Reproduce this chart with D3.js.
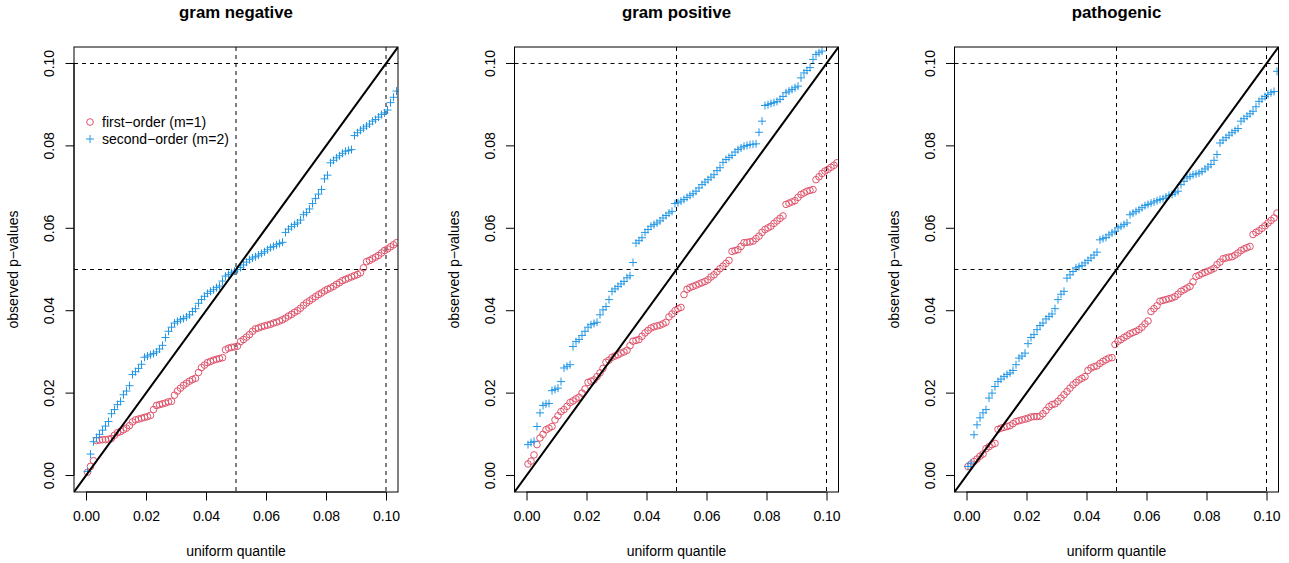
<!DOCTYPE html>
<html><head><meta charset="utf-8">
<script src="https://cdn.jsdelivr.net/npm/d3@7"></script>
<style>
body{margin:0;background:#fff}
text{font-family:"Liberation Sans",Arial,Helvetica,sans-serif;fill:#000}
</style></head>
<body><svg id="chart" width="1289" height="563"></svg>
<script>
// ---- data (sorted observed p-values, one per uniform quantile) ----
const panelTitles = ["gram negative", "gram positive", "pathogenic"];
const seriesNames = ["first\u2212order (m=1)", "second\u2212order (m=2)"];
const tickValues = [0, 0.02, 0.04, 0.06, 0.08, 0.10];
const tickLabels = ["0.00", "0.02", "0.04", "0.06", "0.08", "0.10"];
const nTests = 1000;

const negFirst = [.0008,.0022,.0036,.0085,.0086,.0087,.0087,.0088,.0090,.0098,
.0104,.0107,.0111,.0115,.0121,.0130,.0135,.0137,.0139,.0141,
.0143,.0146,.0160,.0170,.0172,.0174,.0176,.0179,.0180,.0195,
.0205,.0212,.0219,.0224,.0229,.0233,.0236,.0250,.0262,.0268,
.0274,.0277,.0280,.0282,.0284,.0286,.0305,.0309,.0311,.0312,
.0314,.0325,.0330,.0336,.0342,.0350,.0356,.0358,.0361,.0363,
.0365,.0367,.0370,.0372,.0375,.0378,.0382,.0387,.0391,.0396,
.0400,.0406,.0413,.0419,.0424,.0429,.0434,.0439,.0443,.0448,
.0452,.0455,.0459,.0464,.0468,.0473,.0476,.0479,.0482,.0485,
.0488,.0492,.0504,.0519,.0522,.0526,.0530,.0534,.0540,.0546,
.0550,.0555,.0560,.0565];
const negSecond = [.0010,.0052,.0082,.0092,.0100,.0110,.0120,.0131,.0150,.0160,
.0172,.0180,.0196,.0205,.0218,.0245,.0252,.0260,.0270,.0287,
.0290,.0293,.0296,.0300,.0307,.0316,.0335,.0350,.0360,.0370,
.0374,.0378,.0381,.0385,.0390,.0398,.0405,.0418,.0427,.0435,
.0442,.0447,.0451,.0456,.0460,.0472,.0484,.0488,.0492,.0496,
.0500,.0505,.0511,.0518,.0524,.0528,.0531,.0535,.0539,.0543,
.0548,.0553,.0556,.0560,.0563,.0566,.0590,.0598,.0604,.0609,
.0613,.0620,.0633,.0638,.0647,.0660,.0672,.0683,.0694,.0720,
.0729,.0759,.0765,.0771,.0776,.0782,.0787,.0789,.0791,.0825,
.0832,.0838,.0843,.0848,.0853,.0860,.0864,.0870,.0876,.0880,
.0887,.0905,.0918,.0933];
const posFirst = [.0028,.0035,.0050,.0075,.0091,.0100,.0111,.0115,.0119,.0135,
.0145,.0155,.0160,.0168,.0177,.0181,.0186,.0190,.0200,.0210,
.0226,.0229,.0232,.0240,.0249,.0260,.0275,.0280,.0287,.0290,
.0293,.0297,.0300,.0304,.0315,.0326,.0328,.0330,.0338,.0346,
.0352,.0358,.0361,.0363,.0365,.0368,.0372,.0385,.0392,.0400,
.0405,.0408,.0439,.0452,.0456,.0459,.0462,.0465,.0468,.0471,
.0475,.0482,.0487,.0495,.0502,.0508,.0515,.0522,.0544,.0546,
.0548,.0556,.0565,.0566,.0567,.0569,.0575,.0581,.0590,.0597,
.0601,.0605,.0612,.0618,.0624,.0630,.0658,.0661,.0664,.0667,
.0675,.0682,.0686,.0690,.0692,.0694,.0718,.0725,.0733,.0739,
.0743,.0748,.0753,.0759];
const posSecond = [.0075,.0080,.0083,.0119,.0152,.0170,.0174,.0175,.0206,.0209,
.0212,.0228,.0261,.0265,.0269,.0313,.0325,.0330,.0340,.0350,
.0360,.0366,.0369,.0372,.0390,.0402,.0410,.0427,.0447,.0453,
.0459,.0465,.0471,.0480,.0485,.0517,.0564,.0570,.0577,.0590,
.0597,.0605,.0609,.0613,.0618,.0625,.0631,.0637,.0641,.0660,
.0662,.0666,.0670,.0675,.0680,.0684,.0690,.0698,.0706,.0712,
.0718,.0724,.0730,.0740,.0747,.0760,.0767,.0772,.0777,.0785,
.0791,.0795,.0799,.0801,.0803,.0804,.0805,.0833,.0860,.0898,
.0900,.0903,.0905,.0908,.0913,.0920,.0929,.0933,.0937,.0941,
.0945,.0965,.0977,.0983,.0990,.1010,.1022,.1026,.1030,.1050,
.1060,.1070,.1080,.1090];
const pathFirst = [.0022,.0028,.0034,.0040,.0047,.0052,.0065,.0070,.0075,.0078,
.0112,.0115,.0117,.0119,.0121,.0126,.0131,.0133,.0135,.0137,
.0139,.0142,.0143,.0143,.0144,.0150,.0158,.0167,.0172,.0174,
.0180,.0188,.0196,.0204,.0212,.0220,.0226,.0232,.0236,.0240,
.0255,.0261,.0264,.0266,.0272,.0277,.0281,.0285,.0286,.0318,
.0326,.0330,.0335,.0339,.0344,.0347,.0350,.0354,.0360,.0368,
.0375,.0398,.0405,.0412,.0423,.0425,.0427,.0429,.0431,.0434,
.0440,.0447,.0451,.0455,.0459,.0470,.0483,.0486,.0490,.0493,
.0496,.0499,.0503,.0512,.0518,.0526,.0528,.0530,.0531,.0535,
.0540,.0546,.0550,.0553,.0556,.0585,.0590,.0594,.0600,.0606,
.0613,.0619,.0625,.0637];
const pathSecond = [.0022,.0030,.0099,.0123,.0140,.0152,.0160,.0188,.0200,.0216,
.0228,.0234,.0240,.0245,.0249,.0255,.0269,.0285,.0290,.0297,
.0320,.0335,.0342,.0354,.0364,.0370,.0380,.0386,.0392,.0405,
.0427,.0440,.0447,.0479,.0487,.0495,.0504,.0507,.0510,.0516,
.0522,.0528,.0535,.0542,.0572,.0575,.0578,.0584,.0589,.0593,
.0601,.0605,.0609,.0613,.0633,.0637,.0641,.0645,.0650,.0655,
.0658,.0661,.0664,.0667,.0670,.0672,.0676,.0680,.0682,.0686,
.0690,.0706,.0714,.0722,.0726,.0730,.0732,.0734,.0738,.0744,
.0749,.0755,.0765,.0779,.0807,.0814,.0820,.0826,.0832,.0837,
.0842,.0860,.0866,.0872,.0878,.0884,.0895,.0908,.0914,.0920,
.0925,.0929,.0932,.0981];

const panels = [
  {title: panelTitles[0], first: negFirst, second: negSecond, legend: true},
  {title: panelTitles[1], first: posFirst, second: posSecond, legend: false},
  {title: panelTitles[2], first: pathFirst, second: pathSecond, legend: false}
];

// ---- styles / layout ----
const colFirst = "#DF536B", colSecond = "#2297E6";
const plotLefts = [74, 514.5, 954.5], plotW = 324, plotTop = 47, plotBottom = 492;
const dom = [-0.004, 0.104];
const fs = 14;

const svg = d3.select("#chart");

panels.forEach((p, k) => {
  const L = plotLefts[k];
  const x = d3.scaleLinear().domain(dom).range([L, L + plotW]);
  const y = d3.scaleLinear().domain(dom).range([plotBottom, plotTop]);
  const g = svg.append("g");

  const clipId = "clip" + k;
  svg.append("clipPath").attr("id", clipId).append("rect")
    .attr("x", L).attr("y", plotTop).attr("width", plotW).attr("height", plotBottom - plotTop);

  // axes
  const xAx = g.append("g").attr("transform", `translate(0,${plotBottom})`)
    .call(d3.axisBottom(x).tickValues(tickValues).tickFormat((d, i) => tickLabels[i]).tickSizeOuter(0).tickSizeInner(8.5).tickPadding(11));
  xAx.select(".domain").attr("d", `M${x(0)},0H${x(0.1)}`).attr("stroke", "#000");
  xAx.selectAll("text").attr("font-size", fs).attr("font-family", null);
  xAx.selectAll("line").attr("stroke", "#000");

  const yAx = g.append("g").attr("transform", `translate(${L},0)`)
    .call(d3.axisLeft(y).tickValues(tickValues).tickFormat((d, i) => tickLabels[i]).tickSizeOuter(0).tickSizeInner(8.5));
  yAx.select(".domain").attr("d", `M0,${y(0)}V${y(0.1)}`).attr("stroke", "#000");
  yAx.selectAll("line").attr("stroke", "#000");
  yAx.selectAll("text")
    .attr("font-size", fs).attr("font-family", null)
    .attr("x", null).attr("dy", null)
    .attr("text-anchor", "middle")
    .attr("transform", d => `translate(${-20},${y(d)}) rotate(-90)`)
    .attr("y", 0);
  yAx.selectAll(".tick").attr("transform", null);
  yAx.selectAll(".tick line").attr("transform", d => `translate(0,${y(d)})`);

  // reference lines
  const ref = g.append("g").attr("stroke", "#000").attr("stroke-width", 1).attr("stroke-dasharray", "4,4");
  [0.05, 0.1].forEach(v => {
    ref.append("line").attr("x1", L).attr("x2", L + plotW).attr("y1", y(v)).attr("y2", y(v));
    ref.append("line").attr("y1", plotTop).attr("y2", plotBottom).attr("x1", x(v)).attr("x2", x(v));
  });

  // points
  const pts = g.append("g").attr("clip-path", `url(#${clipId})`);
  const q = i => (i + 0.5) / nTests;
  pts.selectAll("circle").data(p.first).join("circle")
    .attr("cx", (d, i) => x(q(i))).attr("cy", d => y(d)).attr("r", 3.3)
    .attr("fill", "none").attr("stroke", colFirst).attr("stroke-width", 1);
  pts.selectAll("path.plus").data(p.second).join("path").attr("class", "plus")
    .attr("d", (d, i) => { const cx = x(q(i)), cy = y(d); return `M${cx-4},${cy}H${cx+4}M${cx},${cy-4}V${cy+4}`; })
    .attr("stroke", colSecond).attr("stroke-width", 1).attr("fill", "none");

  // diagonal
  g.append("line").attr("clip-path", `url(#${clipId})`)
    .attr("x1", x(dom[0])).attr("y1", y(dom[0])).attr("x2", x(dom[1])).attr("y2", y(dom[1]))
    .attr("stroke", "#000").attr("stroke-width", 2);

  // box
  g.append("rect").attr("x", L).attr("y", plotTop).attr("width", plotW).attr("height", plotBottom - plotTop)
    .attr("fill", "none").attr("stroke", "#000").attr("stroke-width", 1);

  // titles
  g.append("text").attr("x", L + plotW / 2).attr("y", 18).attr("text-anchor", "middle")
    .attr("font-size", 16.8).attr("font-weight", "bold").text(p.title);
  g.append("text").attr("x", L + plotW / 2).attr("y", 556).attr("text-anchor", "middle")
    .attr("font-size", fs).text("uniform quantile");
  g.append("text").attr("transform", `translate(${L - 56},${(plotTop + plotBottom) / 2}) rotate(-90)`)
    .attr("text-anchor", "middle").attr("font-size", fs).text("observed p\u2212values");

  // legend
  if (p.legend) {
    const lg = g.append("g");
    const lx = L + 16, ly1 = 122, ly2 = 139;
    lg.append("circle").attr("cx", lx).attr("cy", ly1).attr("r", 3.3).attr("fill", "none").attr("stroke", colFirst);
    lg.append("path").attr("d", `M${lx-4},${ly2}H${lx+4}M${lx},${ly2-4}V${ly2+4}`).attr("stroke", colSecond);
    lg.append("text").attr("x", lx + 12).attr("y", ly1 + 5).attr("font-size", fs).text(seriesNames[0]);
    lg.append("text").attr("x", lx + 12).attr("y", ly2 + 5).attr("font-size", fs).text(seriesNames[1]);
  }
});
</script></body></html>
